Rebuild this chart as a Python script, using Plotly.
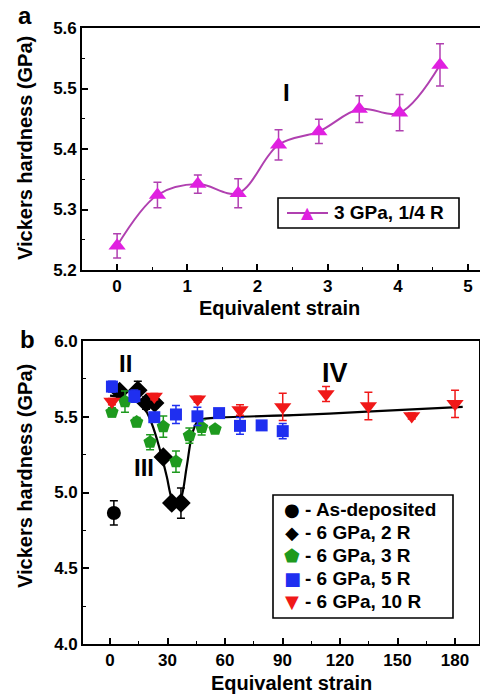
import plotly.graph_objects as go

# ---------------- Panel a data ----------------
a_strain = [0, 0.575, 1.15, 1.725, 2.3, 2.875, 3.45, 4.025, 4.6]
a_hard = [5.240, 5.324, 5.342, 5.327, 5.407, 5.429, 5.466, 5.460, 5.539]
a_err = [0.020, 0.021, 0.015, 0.024, 0.025, 0.020, 0.022, 0.030, 0.035]

# ---------------- Panel b data ----------------
asdep_x = [2]
asdep_y = [4.865]
asdep_e = [0.08]

r2_x = [5, 14.5, 18.8, 23.3, 27.8, 32.2, 37.0]
r2_y = [5.666, 5.675, 5.590, 5.590, 5.235, 4.930, 4.930]
r2_e = [0.03, 0.06, 0.04, 0.03, 0.02, 0.02, 0.10]

r3_x = [1, 7.8, 13.9, 20.9, 27.8, 34.4, 41.4, 47.8, 54.8]
r3_y = [5.530, 5.600, 5.465, 5.332, 5.435, 5.204, 5.375, 5.430, 5.418]
r3_e = [0.03, 0.07, 0.03, 0.05, 0.07, 0.07, 0.05, 0.05, 0.02]

r5_x = [1, 12.7, 23.1, 34.4, 45.6, 56.9, 67.8, 79.1, 90.1]
r5_y = [5.699, 5.636, 5.497, 5.515, 5.503, 5.524, 5.440, 5.443, 5.405]
r5_e = [0.035, 0.04, 0.02, 0.06, 0.06, 0.02, 0.055, 0.02, 0.05]

r10_x = [1, 23.1, 45.7, 67.8, 90.1, 112.7, 134.8, 157.4, 180]
r10_y = [5.600, 5.633, 5.615, 5.545, 5.565, 5.650, 5.571, 5.505, 5.585]
r10_e = [0.02, 0.02, 0.02, 0.035, 0.09, 0.05, 0.09, 0.02, 0.09]

fit_x = [0, 12.2, 17.4, 21.7, 26.1, 29.6, 32.2, 34.5, 37.0, 40.0, 42.6, 45.2, 48.7, 57.4, 99, 134, 184]
fit_y = [5.640, 5.610, 5.565, 5.457, 5.280, 5.105, 4.960, 4.915, 4.960, 5.170, 5.369, 5.460, 5.485, 5.495, 5.512, 5.534, 5.565]

FONT = "Liberation Sans, Arial, sans-serif"
SYMFONT = "DejaVu Sans"
W, H = 480, 694


def px(x):
    return x / W


def py(y):
    return 1 - y / H


MAG = "#e020e0"
MAG_LINE = "#b040b0"
GREEN = "#1e9a1e"
BLUE = "#1f2ff0"
RED = "#f01818"

fig = go.Figure()

# Panel a
fig.add_trace(go.Scatter(
    x=a_strain, y=a_hard, mode="lines+markers", name="3 GPa, 1/4 R",
    line=dict(color=MAG_LINE, width=2, shape="spline", smoothing=1.0),
    marker=dict(symbol="triangle-up", size=15, color=MAG),
    error_y=dict(type="data", array=a_err, color=MAG_LINE, thickness=1.5, width=4),
    xaxis="x", yaxis="y", showlegend=False,
))

# Panel b fit line
fig.add_trace(go.Scatter(
    x=fit_x, y=fit_y, mode="lines", showlegend=False,
    line=dict(color="black", width=2.2, shape="spline", smoothing=1.0),
    xaxis="x2", yaxis="y2",
))

series_b = [
    ("- As-deposited", asdep_x, asdep_y, asdep_e, "circle", "black", 14, "\u25CF"),
    ("- 6 GPa, 2 R", r2_x, r2_y, r2_e, "diamond", "black", 15, "\u25C6"),
    ("- 6 GPa, 3 R", r3_x, r3_y, r3_e, "pentagon", GREEN, 14, "\u2B1F"),
    ("- 6 GPa, 5 R", r5_x, r5_y, r5_e, "square", BLUE, 12, "\u25A0"),
    ("- 6 GPa, 10 R", r10_x, r10_y, r10_e, "triangle-down", RED, 15, "\u25BC"),
]
for name, xs, ys, es, sym, col, sz, glyph in series_b:
    fig.add_trace(go.Scatter(
        x=xs, y=ys, mode="markers", name=name,
        marker=dict(symbol=sym, size=sz, color=col),
        error_y=dict(type="data", array=es, color=col, thickness=1.5, width=4),
        xaxis="x2", yaxis="y2", showlegend=False,
    ))

tickfont = dict(family=FONT, size=17, color="black", weight="bold")
axcommon = dict(showline=True, linecolor="black", linewidth=1.6, ticks="inside",
                ticklen=6, tickwidth=1.6, tickcolor="black", showgrid=False,
                zeroline=False, tickfont=tickfont, automargin=False)
minor_common = dict(ticks="inside", ticklen=3, tickwidth=1.4, tickcolor="black", showgrid=False)

fig.update_layout(
    width=W, height=H,
    margin=dict(l=0, r=0, t=0, b=0, autoexpand=False),
    paper_bgcolor="white", plot_bgcolor="white",
    font=dict(family=FONT, color="black"),
    showlegend=False,
    xaxis=dict(domain=[px(82), 1.0], range=[-0.5, 5.17], anchor="y",
               tickmode="linear", tick0=0, dtick=1, mirror=True,
               minor=dict(dtick=0.5, **minor_common), **axcommon),
    yaxis=dict(domain=[py(270), py(28)], range=[5.2, 5.6], anchor="x",
               tickmode="linear", tick0=5.2, dtick=0.1, tickformat=".1f", mirror=False,
               minor=dict(dtick=0.05, **minor_common), **axcommon),
    xaxis2=dict(domain=[px(83), px(479)], range=[-14.1, 192.5], anchor="y2",
                tickmode="linear", tick0=0, dtick=30, mirror=True,
                minor=dict(dtick=15, **minor_common), **axcommon),
    yaxis2=dict(domain=[py(644), py(341)], range=[4.0, 6.0], anchor="x2",
                tickmode="linear", tick0=4.0, dtick=0.5, tickformat=".1f", mirror=True,
                minor=dict(dtick=0.25, **minor_common), **axcommon),
)

# ---- legend boxes (drawn as shapes) ----
shapes = [
    dict(type="rect", xref="paper", yref="paper", x0=px(278), x1=px(459), y0=py(228), y1=py(198),
         line=dict(color="black", width=1.6), fillcolor="white", layer="above"),
    dict(type="line", xref="paper", yref="paper", x0=px(287), x1=px(328), y0=py(213), y1=py(213),
         line=dict(color=MAG_LINE, width=2), layer="above"),
    dict(type="rect", xref="paper", yref="paper", x0=px(273), x1=px(453), y0=py(618), y1=py(495),
         line=dict(color="black", width=1.6), fillcolor="white", layer="above"),
]
fig.update_layout(shapes=shapes)

ann_font = dict(family=FONT, color="black", weight="bold")
annotations = [
    dict(text="a", x=px(25), y=py(16), font=dict(size=24, **ann_font)),
    dict(text="b", x=px(27), y=py(339), font=dict(size=24, **ann_font)),
    dict(text="I", x=px(286), y=py(92), font=dict(size=24, **ann_font)),
    dict(text="II", x=px(125), y=py(363), font=dict(size=24, **ann_font)),
    dict(text="III", x=px(144), y=py(468), font=dict(size=24, **ann_font)),
    dict(text="IV", x=px(335), y=py(373), font=dict(size=27, **ann_font)),
    dict(text="Equivalent strain", x=px(279), y=py(308), font=dict(size=20, **ann_font)),
    dict(text="Equivalent strain", x=px(291), y=py(683), font=dict(size=20, **ann_font)),
    dict(text="Vickers hardness (GPa)", x=px(25), y=py(148), textangle=-90,
         font=dict(size=20, **ann_font)),
    dict(text="Vickers hardness (GPa)", x=px(25), y=py(476), textangle=-90,
         font=dict(size=20, **ann_font)),
    # legend a
    dict(text="\u25B2", x=px(307), y=py(212), font=dict(family=SYMFONT, size=16, color=MAG)),
    dict(text="3 GPa, 1/4 R", x=px(332), y=py(213), xanchor="left",
         font=dict(size=19, **ann_font)),
]
leg_rows = [509, 532, 555, 578, 601.5]
for (name, xs, ys, es, sym, col, sz, glyph), ry in zip(series_b, leg_rows):
    annotations.append(dict(text=glyph, x=px(292), y=py(ry),
                            font=dict(family=SYMFONT, size=18, color=col)))
    annotations.append(dict(text=name, x=px(303), y=py(ry), xanchor="left",
                            font=dict(size=19, **ann_font)))

for a in annotations:
    a.setdefault("xanchor", "center")
    a.update(xref="paper", yref="paper", showarrow=False, yanchor="middle")
fig.update_layout(annotations=annotations)

fig.write_html(
    "out.html",
    config={"displayModeBar": False},
    post_script="document.body.style.margin='0px';document.body.style.overflow='hidden';",
)
